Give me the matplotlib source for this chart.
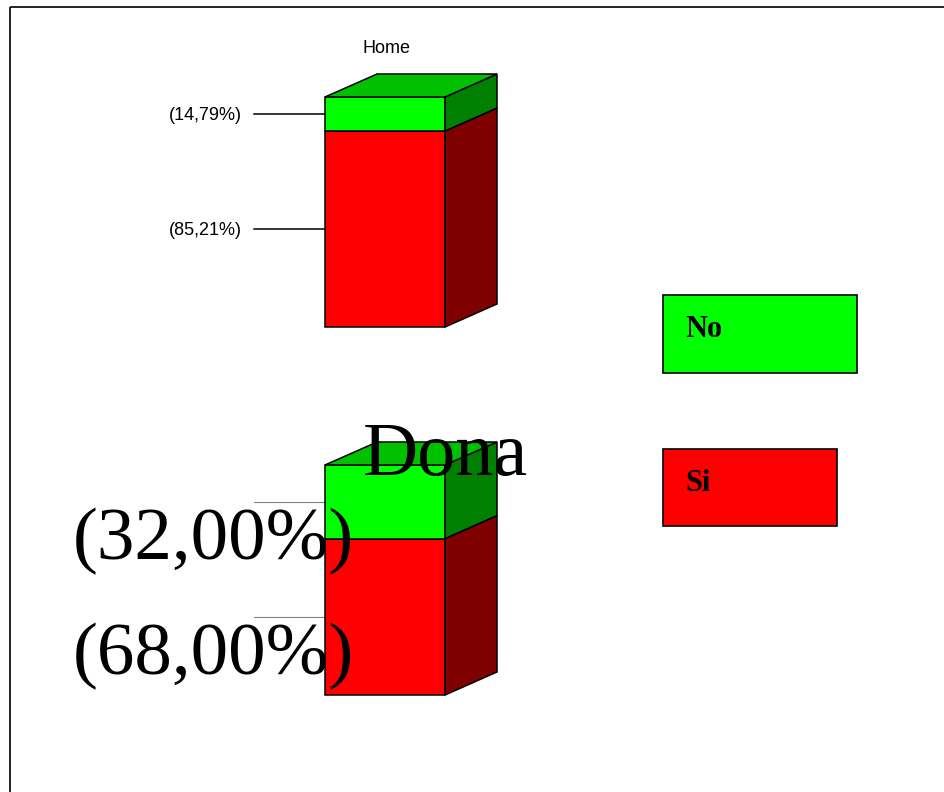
import matplotlib.pyplot as plt
from matplotlib.patches import Polygon, Rectangle

# dades: percentatge de "Si" i "No" per grup
groups = ['Home', 'Dona']
si_pct = [85.21, 68.00]
no_pct = [14.79, 32.00]
legend_labels = ['No', 'Si']

GREEN = '#00FF00'
GREEN_TOP = '#00C000'
GREEN_SIDE = '#008000'
RED = '#FF0000'
RED_SIDE = '#7F0000'

fig = plt.figure(figsize=(9.44, 7.92), dpi=100)
ax = fig.add_axes([0, 0, 1, 1])
ax.set_xlim(0, 944)
ax.set_ylim(792, 0)
ax.axis('off')

# marc exterior
ax.add_patch(Rectangle((10, 7), 960, 820, fill=False, ec='black', lw=1.2))

bar_x = 325
bar_w = 120
dx, dy = 52, -23
px_per_pct = 2.3
base_y = [327, 695]


def segment(y_bot, y_top, front, side, top=None):
    ax.add_patch(Rectangle((bar_x, y_top), bar_w, y_bot - y_top,
                           fc=front, ec='black', lw=1.1, zorder=2))
    x1 = bar_x + bar_w
    ax.add_patch(Polygon([(x1, y_bot), (x1 + dx, y_bot + dy),
                          (x1 + dx, y_top + dy), (x1, y_top)],
                         closed=True, fc=side, ec='black', lw=1.1, zorder=2))
    if top is not None:
        ax.add_patch(Polygon([(bar_x, y_top), (bar_x + dx, y_top + dy),
                              (x1 + dx, y_top + dy), (x1, y_top)],
                             closed=True, fc=top, ec='black', lw=1.1, zorder=2))


for i, name in enumerate(groups):
    y0 = base_y[i]
    y_si = y0 - si_pct[i] * px_per_pct
    y_no = y_si - no_pct[i] * px_per_pct
    segment(y0, y_si, RED, RED_SIDE)
    segment(y_si, y_no, GREEN, GREEN_SIDE, GREEN_TOP)

    mids = [(y0 + y_si) / 2, (y_si + y_no) / 2]
    vals = [si_pct[i], no_pct[i]]
    for m, v in zip(mids, vals):
        txt = '(%s%%)' % ('%.2f' % v).replace('.', ',')
        if i == 0:
            ax.plot([254, bar_x], [m, m], color='black', lw=1.1, zorder=1)
            ax.text(242, m + 1, txt, ha='right', va='center', fontsize=13,
                    family='Liberation Sans', zorder=3)
        else:
            ax.plot([254, bar_x], [m, m], color='#808080', lw=0.8, zorder=1)
            ax.text(73, m + 57, txt, ha='left', va='baseline', fontsize=54,
                    family='Liberation Serif', zorder=3)

    if i == 0:
        ax.text(387, 53, name, ha='center', va='baseline', fontsize=13,
                family='Liberation Sans', zorder=3)
    else:
        ax.text(363, 475, name, ha='left', va='baseline', fontsize=55,
                family='Liberation Serif', zorder=3)

# llegenda
legend_boxes = [(663, 295, 194, 78), (663, 449, 174, 77)]
legend_colors = [GREEN, RED]
for (x, y, w, h), c, lab in zip(legend_boxes, legend_colors, legend_labels):
    ax.add_patch(Rectangle((x, y), w, h, fc=c, ec='black', lw=1.2, zorder=2))
    ax.text(x + 22, y + 42, lab, ha='left', va='baseline', fontsize=22,
            fontweight='bold', family='Liberation Serif', zorder=3)

fig.savefig('out.png', dpi=100)
